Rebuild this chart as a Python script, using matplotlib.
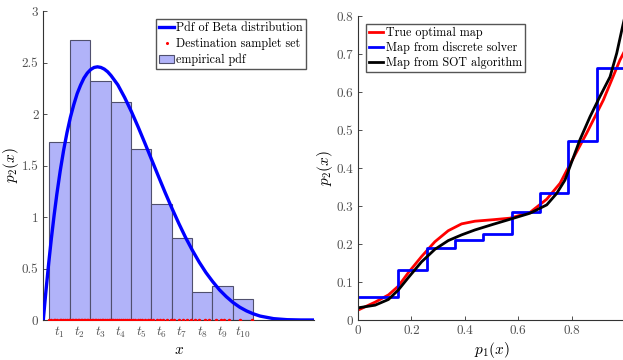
import matplotlib
matplotlib.use("Agg")
from matplotlib import pyplot as plt

# left panel: Beta(2,5) pdf, histogram of the destination samples
pdf_x = [0.0, 0.005, 0.01, 0.02, 0.03, 0.04, 0.05, 0.0625, 0.075, 0.0875, 0.1, 0.1125,
         0.125, 0.1375, 0.15, 0.1625, 0.175, 0.1875, 0.2, 0.2125, 0.225, 0.2375, 0.25,
         0.275, 0.3, 0.325, 0.35, 0.375, 0.4, 0.425, 0.45, 0.475, 0.5, 0.525, 0.55, 0.575,
         0.6, 0.625, 0.65, 0.675, 0.7, 0.725, 0.75, 0.775, 0.8, 0.85, 0.9, 0.95, 1.0]
pdf_y = [0.0, 0.147, 0.288, 0.553, 0.797, 1.019, 1.222, 1.449, 1.648, 1.820, 1.968, 2.091,
         2.198, 2.280, 2.349, 2.398, 2.432, 2.452, 2.458, 2.452, 2.436, 2.410, 2.373,
         2.283, 2.161, 2.024, 1.874, 1.716, 1.555, 1.394, 1.235, 1.083, 0.938, 0.801,
         0.677, 0.563, 0.461, 0.373, 0.293, 0.227, 0.170, 0.124, 0.088, 0.060, 0.038,
         0.013, 0.003, 0.0002, 0.0]
bin_edges = [0.022, 0.097, 0.173, 0.248, 0.323, 0.399, 0.474, 0.549, 0.624, 0.700, 0.775]
bin_density = [1.73, 2.72, 2.32, 2.12, 1.66, 1.13, 0.80, 0.27, 0.33, 0.20]
bin_labels = ["$t_{%d}$" % i for i in range(1, 11)]
samples = [0.022, 0.03, 0.038, 0.045, 0.052, 0.06, 0.066, 0.074, 0.081, 0.088, 0.094,
           0.10, 0.105, 0.11, 0.116, 0.121, 0.127, 0.132, 0.138, 0.143, 0.149, 0.155,
           0.16, 0.166, 0.171, 0.178, 0.184, 0.19, 0.196, 0.202, 0.209, 0.215, 0.222,
           0.228, 0.235, 0.241, 0.247, 0.252, 0.259, 0.265, 0.272, 0.279, 0.286, 0.293,
           0.30, 0.308, 0.316, 0.322, 0.331, 0.34, 0.349, 0.357, 0.366, 0.375, 0.386,
           0.395, 0.405, 0.418, 0.43, 0.443, 0.456, 0.47, 0.484, 0.5, 0.516, 0.53,
           0.545, 0.558, 0.575, 0.596, 0.612, 0.637, 0.655, 0.668, 0.686, 0.727, 0.77]

# right panel: maps p1 -> p2
true_x = [0.0, 0.064, 0.114, 0.151, 0.189, 0.238, 0.288, 0.338, 0.388, 0.438, 0.507,
          0.569, 0.644, 0.707, 0.757, 0.794, 0.856, 0.919, 0.981, 1.0]
true_y = [0.026, 0.047, 0.066, 0.089, 0.125, 0.167, 0.206, 0.235, 0.253, 0.260, 0.264,
          0.268, 0.283, 0.318, 0.36, 0.41, 0.491, 0.579, 0.684, 0.71]
sot_x = [0.0, 0.064, 0.114, 0.151, 0.189, 0.238, 0.288, 0.338, 0.388, 0.438, 0.507,
         0.569, 0.644, 0.707, 0.744, 0.775, 0.794, 0.831, 0.869, 0.906, 0.944, 0.969, 0.988, 1.0]
sot_y = [0.032, 0.039, 0.054, 0.079, 0.112, 0.153, 0.186, 0.209, 0.224, 0.237, 0.252,
         0.265, 0.281, 0.303, 0.333, 0.368, 0.404, 0.474, 0.535, 0.588, 0.640, 0.702, 0.763, 0.80]
step_x = [0.0, 0.151, 0.257, 0.365, 0.469, 0.576, 0.682, 0.786, 0.894, 1.0]
step_y = [0.061, 0.132, 0.189, 0.211, 0.226, 0.285, 0.335, 0.470, 0.663, 0.663]

plt.rcParams["font.family"] = "cmr10"
plt.rcParams["mathtext.fontset"] = "cm"
plt.rcParams["axes.formatter.use_mathtext"] = True
plt.rcParams["font.size"] = 8.7
axis_col = "#333333"
tick_col = "#505050"

fig = plt.figure(figsize=(6.23, 3.6), dpi=100)
ax1 = fig.add_axes([43.3 / 623, 40 / 360, 271 / 623, 309 / 360])
ax2 = fig.add_axes([358 / 623, 40 / 360, 267 / 623, 304 / 360])

# left
widths = [bin_edges[i + 1] - bin_edges[i] for i in range(len(bin_density))]
centers = [bin_edges[i] + widths[i] / 2 for i in range(len(bin_density))]
line_pdf, = ax1.plot(pdf_x, pdf_y, color="#0000ff", lw=2.4, zorder=4,
                     label="Pdf of Beta distribution")
dots, = ax1.plot(samples, [0] * len(samples), ".", color="red", ms=3, zorder=5,
                 label="Destination samplet set")
bars = ax1.bar(bin_edges[:-1], bin_density, width=widths, align="edge",
               facecolor="#b1b3f9", edgecolor="#50506e", lw=0.8, zorder=2,
               label="empirical pdf")
ax1.set_xlim(0, 1)
ax1.set_ylim(0, 3)
ax1.set_xticks(centers)
ax1.set_xticklabels(bin_labels, fontsize=10.5)
ax1.set_yticks([0, 0.5, 1, 1.5, 2, 2.5, 3])
ax1.set_yticklabels(["0", "0.5", "1", "1.5", "2", "2.5", "3"])
ax1.set_xlabel("$x$", fontsize=11, labelpad=2)
ax1.set_ylabel("$p_2(x)$", fontsize=11)
ax1.yaxis.set_label_coords(-0.084, 0.5)
ax1.legend(handles=[line_pdf, dots, bars], loc="upper right",
           bbox_to_anchor=(306 / 623, 1 - 19 / 360), bbox_transform=fig.transFigure,
           borderaxespad=0, fancybox=False, edgecolor="#555555", framealpha=1,
           handlelength=1.2, handletextpad=0.2, borderpad=0.25, labelspacing=0.3,
           markerscale=0.8)

# right
ax2.plot(true_x, true_y, color="red", lw=2, label="True optimal map")
ax2.step(step_x, step_y, where="post", color="#0000ff", lw=2,
         label="Map from discrete solver")
ax2.plot(sot_x, sot_y, color="black", lw=2, label="Map from SOT algorithm")
ax2.set_xlim(0, 1)
ax2.set_ylim(0, 0.8)
ax2.set_xticks([0, 0.2, 0.4, 0.6, 0.8, 1])
ax2.set_xticklabels(["0", "0.2", "0.4", "0.6", "0.8", "1"])
ax2.set_yticks([0, 0.1, 0.2, 0.3, 0.4, 0.5, 0.6, 0.7, 0.8])
ax2.set_yticklabels(["0", "0.1", "0.2", "0.3", "0.4", "0.5", "0.6", "0.7", "0.8"])
ax2.set_xlabel("$p_1(x)$", fontsize=11, labelpad=2)
ax2.set_ylabel("$p_2(x)$", fontsize=11)
ax2.yaxis.set_label_coords(-0.085, 0.5)
ax2.legend(loc="upper left", bbox_to_anchor=(365.7 / 623, 1 - 24.3 / 360),
           bbox_transform=fig.transFigure, borderaxespad=0, fancybox=False,
           edgecolor="#555555", framealpha=1, handlelength=1.2, handletextpad=0.2,
           borderpad=0.25, labelspacing=0.2)

for ax in (ax1, ax2):
    ax.spines["top"].set_visible(False)
    ax.spines["right"].set_visible(False)
    for s in ("left", "bottom"):
        ax.spines[s].set_color(axis_col)
        ax.spines[s].set_linewidth(0.8)
    ax.tick_params(direction="in", length=3, width=0.6, color=axis_col,
                   labelcolor=tick_col, labelsize=9.5)

fig.savefig("out.png", dpi=100)
